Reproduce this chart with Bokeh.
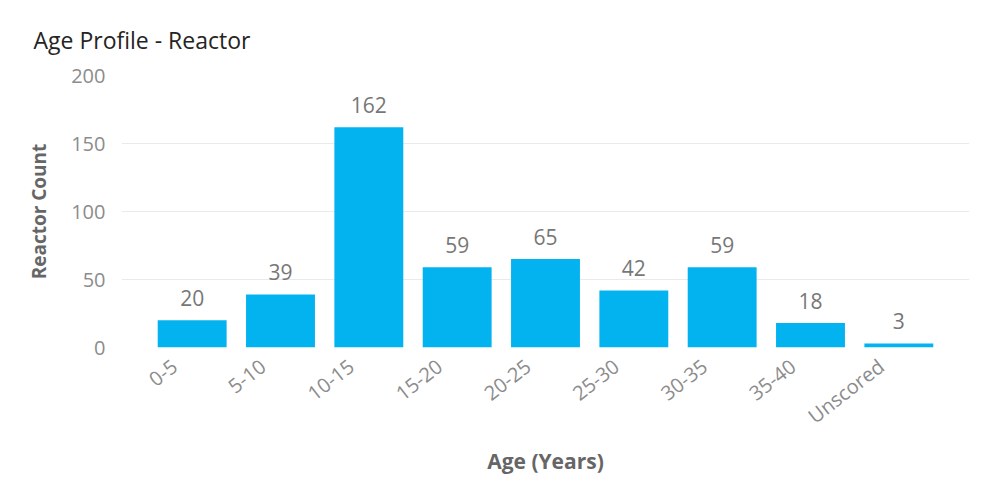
import math
from bokeh.plotting import figure
from bokeh.models import Range1d, FixedTicker, ColumnDataSource
from bokeh.core.properties import value
from bokeh.embed import file_html
from bokeh.resources import INLINE

categories = ["0-5", "5-10", "10-15", "15-20", "20-25", "25-30", "30-35", "35-40", "Unscored"]
counts = [20, 39, 162, 59, 65, 42, 59, 18, 3]
y_ticks = [0, 50, 100, 150, 200]

FONT = "Open Sans"
BAR = "#03B3F0"
LABEL_SHIFT = 0.2  # rotated category labels end slightly left of bar centre

xs = list(range(len(categories)))
src = ColumnDataSource(dict(x=xs, n=counts, lbl=[str(c) for c in counts]))

tick_pos = [round(i - LABEL_SHIFT, 3) for i in xs]

p = figure(
    width=975, height=484,
    x_range=Range1d(-0.8, len(categories) - 0.2),
    y_range=Range1d(0, 200),
    output_backend="svg", toolbar_location=None,
    min_border_left=121, min_border_right=6, min_border_top=75, min_border_bottom=137,
    title="Age Profile - Reactor",
)

p.title.text_font = FONT
p.title.text_font_size = "23px"
p.title.text_font_style = "normal"
p.title.text_color = "#252423"
p.title.offset = -88
p.title.standoff = 36
p.title.vertical_align = "top"

p.vbar(x="x", top="n", width=0.78, source=src, fill_color=BAR, line_color=None)
p.text(x="x", y="n", text="lbl", source=src, text_align="center", text_baseline="bottom",
       y_offset=-14, text_font=value(FONT), text_font_size="21px", text_color="#777777")

p.outline_line_color = None
p.xgrid.grid_line_color = None
p.ygrid.grid_line_color = "#EAEAEA"
p.ygrid.grid_line_width = 1

p.yaxis.ticker = FixedTicker(ticks=y_ticks)
p.xaxis.ticker = FixedTicker(ticks=tick_pos)
p.xaxis.major_label_overrides = {t: c for t, c in zip(tick_pos, categories)}

for ax in (p.xaxis[0], p.yaxis[0]):
    ax.axis_line_color = None
    ax.major_tick_line_color = None
    ax.minor_tick_line_color = None
    ax.major_label_text_font = FONT
    ax.major_label_text_font_size = "20px"
    ax.major_label_text_color = "#8C8C8C"
    ax.axis_label_text_font = FONT
    ax.axis_label_text_font_style = "bold"
    ax.axis_label_text_color = "#666666"

p.yaxis.axis_label = "Reactor Count"
p.yaxis.axis_label_text_font_size = "19px"
p.yaxis.major_label_standoff = 10
p.yaxis.axis_label_standoff = 16

p.xaxis.axis_label = "Age (Years)"
p.xaxis.axis_label_text_font_size = "21px"
p.xaxis.major_label_orientation = math.radians(38)
p.xaxis.major_label_standoff = 10
p.xaxis.axis_label_standoff = 4

open("out.html", "w").write(file_html(p, INLINE))
